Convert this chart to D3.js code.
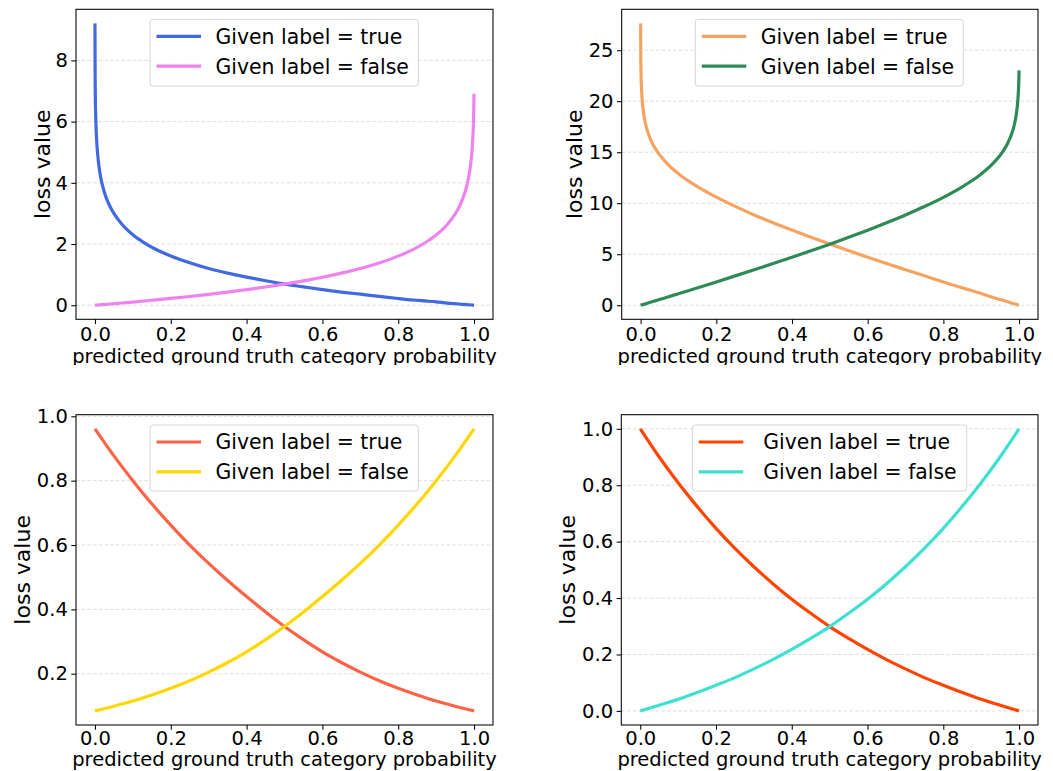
<!DOCTYPE html>
<html>
<head>
<meta charset="utf-8">
<script src="https://cdn.jsdelivr.net/npm/d3@7"></script>
<style>
  html, body { margin: 0; padding: 0; background: #fff; }
  svg { display: block; font-family: "DejaVu Sans", sans-serif; }
</style>
</head>
<body>
<svg id="fig" width="1053" height="771"></svg>
<script>
// Sample positions (predicted ground-truth probability) for the log-based losses
const probs = [0, 0.0005, 0.001, 0.002, 0.004, 0.007, 0.01, 0.015, 0.02, 0.03, 0.04, 0.05, 0.07,
  0.1, 0.13, 0.16, 0.2, 0.25, 0.3, 0.35, 0.4, 0.45, 0.5, 0.55, 0.6, 0.65, 0.7, 0.75, 0.8,
  0.84, 0.87, 0.9, 0.93, 0.95, 0.96, 0.97, 0.98, 0.985, 0.99, 0.993, 0.996, 0.998, 0.999, 1.0];

// Cross-entropy style loss
const ceTrue = [9.21, 7.42, 6.81, 6.17, 5.50, 4.95, 4.60, 4.19, 3.91, 3.50, 3.22, 3.00, 2.66,
  2.30, 2.04, 1.83, 1.61, 1.39, 1.20, 1.05, 0.92, 0.80, 0.69, 0.60, 0.51, 0.43, 0.36, 0.29, 0.22,
  0.17, 0.14, 0.11, 0.07, 0.05, 0.04, 0.03, 0.02, 0.015, 0.01, 0.007, 0.004, 0.002, 0.001, 0.0];
const ceFalse = [0.0, 0.0, 0.0, 0.002, 0.004, 0.006, 0.009, 0.014, 0.019, 0.029, 0.040, 0.050, 0.072,
  0.104, 0.138, 0.173, 0.222, 0.286, 0.355, 0.429, 0.509, 0.596, 0.691, 0.796, 0.914, 1.047, 1.201, 1.382, 1.604,
  1.826, 2.033, 2.293, 2.645, 2.976, 3.194, 3.474, 3.863, 4.135, 4.510, 4.828, 5.298, 5.809, 6.215, 6.908];

// Symmetric (forward + reverse) loss
const sceTrue = [27.63, 24.05, 22.82, 21.53, 20.17, 19.05, 18.32, 17.45, 16.85, 15.93, 15.28, 14.75, 13.89,
  12.89, 12.09, 11.40, 10.59, 9.69, 8.85, 8.09, 7.37, 6.67, 5.99, 5.34, 4.70, 4.08, 3.48, 2.88, 2.28,
  1.81, 1.48, 1.14, 0.78, 0.56, 0.45, 0.34, 0.22, 0.17, 0.11, 0.08, 0.045, 0.02, 0.01, 0.0];
const sceFalse = [0.0, 0.005, 0.009, 0.022, 0.045, 0.076, 0.11, 0.166, 0.222, 0.334, 0.448, 0.56, 0.789,
  1.129, 1.473, 1.82, 2.286, 2.875, 3.473, 4.082, 4.702, 5.337, 5.987, 6.658, 7.354, 8.081, 8.849, 9.672, 10.576,
  11.388, 12.079, 12.875, 13.855, 14.702, 15.23, 15.882, 16.752, 17.342, 18.138, 18.802, 19.769, 20.81, 21.631, 23.026];

// Evenly spaced positions for the bounded losses
const probsEven = [0, 0.05, 0.1, 0.15, 0.2, 0.25, 0.3, 0.35, 0.4, 0.45, 0.5,
  0.55, 0.6, 0.65, 0.7, 0.75, 0.8, 0.85, 0.9, 0.95, 1.0];

const boundedTrue = [0.961, 0.877, 0.800, 0.728, 0.662, 0.600, 0.543, 0.490, 0.440, 0.392, 0.347,
  0.306, 0.268, 0.235, 0.205, 0.178, 0.155, 0.134, 0.115, 0.099, 0.0845];
const boundedFalse = [0.0845, 0.099, 0.115, 0.134, 0.155, 0.178, 0.205, 0.235, 0.268, 0.306, 0.347,
  0.392, 0.440, 0.490, 0.543, 0.600, 0.662, 0.728, 0.800, 0.877, 0.961];

const unitTrue = [1.0, 0.900, 0.809, 0.725, 0.647, 0.576, 0.511, 0.451, 0.396, 0.346, 0.299,
  0.257, 0.218, 0.182, 0.149, 0.118, 0.091, 0.065, 0.041, 0.020, 0.0];
const unitFalse = [0.0, 0.020, 0.041, 0.065, 0.091, 0.118, 0.149, 0.182, 0.218, 0.257, 0.299,
  0.346, 0.396, 0.451, 0.511, 0.576, 0.647, 0.725, 0.809, 0.900, 1.0];

// Tick values
const xTicks = [0, 0.2, 0.4, 0.6, 0.8, 1.0];
const yTicksCE = [0, 2, 4, 6, 8];
const yTicksSCE = [0, 5, 10, 15, 20, 25];
const yTicksBounded = [0.2, 0.4, 0.6, 0.8, 1.0];
const yTicksUnit = [0, 0.2, 0.4, 0.6, 0.8, 1.0];

const legendLabels = ["Given label = true", "Given label = false"];
const xLabel = "predicted ground truth category probability";
const yLabel = "loss value";

const panels = [
  { box: [76, 493, 9.3, 319.3], yDomain: [-0.46, 9.67], yTicks: yTicksCE, fmt: d3.format("d"),
    x: probs, series: [ceTrue, ceFalse], colors: ["#4169E1", "#EE82EE"],
    legend: [150, 19.3, 268.3, 66.7], legendPad: 0, yLabelX: 50, xLabelGap: 43.5, xTickPad: 3.5,
    clipTop: 0, clipBottom: 365 },
  { box: [621.7, 1038, 9.3, 319.3], yDomain: [-1.38, 29.01], yTicks: yTicksSCE, fmt: d3.format("d"),
    x: probs, series: [sceTrue, sceFalse], colors: ["#F4A460", "#2E8B57"],
    legend: [695.3, 19.3, 268, 66.7], legendPad: 0, yLabelX: 582, xLabelGap: 43.5, xTickPad: 3.5,
    clipTop: 0, clipBottom: 365 },
  { box: [76, 493, 414.7, 725], yDomain: [0.0407, 1.005], yTicks: yTicksBounded, fmt: d3.format(".1f"),
    x: probsEven, series: [boundedTrue, boundedFalse], colors: ["#FF6347", "#FFD700"],
    legend: [150, 425, 268.3, 66], legendPad: 0, yLabelX: 30, xLabelGap: 41.3, xTickPad: 1.8,
    clipTop: 395, clipBottom: 771 },
  { box: [621.3, 1038, 414.7, 725], yDomain: [-0.05, 1.05], yTicks: yTicksUnit, fmt: d3.format(".1f"),
    x: probsEven, series: [unitTrue, unitFalse], colors: ["#FF4500", "#40E0D0"],
    legend: [692.3, 425, 274.4, 66], legendPad: 5.5, yLabelX: 575, xLabelGap: 41.3, xTickPad: 1.8,
    clipTop: 395, clipBottom: 771 }
];

const svg = d3.select("#fig");
const defs = svg.append("defs");
const FS_TICK = 19.5, FS_XLABEL = 19.5, FS_YLABEL = 22, FS_LEGEND = 20.4;

panels.forEach((p, i) => {
  const [x0, x1, y0, y1] = p.box;
  const clipId = "clip" + i;
  defs.append("clipPath").attr("id", clipId)
    .append("rect").attr("x", 0).attr("y", p.clipTop)
    .attr("width", 1053).attr("height", p.clipBottom - p.clipTop);
  const g = svg.append("g").attr("clip-path", `url(#${clipId})`);

  const x = d3.scaleLinear().domain([-0.05, 1.05]).range([x0, x1]);
  const y = d3.scaleLinear().domain(p.yDomain).range([y1, y0]);

  // horizontal dashed grid
  g.append("g").selectAll("line").data(p.yTicks).join("line")
    .attr("x1", x0).attr("x2", x1)
    .attr("y1", d => y(d)).attr("y2", d => y(d))
    .attr("stroke", "#d9d9d9").attr("stroke-width", 0.9)
    .attr("stroke-dasharray", "3.5,2.2");

  // curves
  const line = d3.line().curve(d3.curveMonotoneX);
  p.series.forEach((vals, k) => {
    const pts = p.x.map((v, j) => [x(v), y(vals[j])]);
    g.append("path").attr("d", line(pts))
      .attr("fill", "none").attr("stroke", p.colors[k])
      .attr("stroke-width", 3.2).attr("stroke-linecap", "butt");
  });

  // axes
  const xAxis = d3.axisBottom(x).tickValues(xTicks).tickFormat(d3.format(".1f"))
    .tickSize(4.7).tickPadding(p.xTickPad).tickSizeOuter(0);
  const yAxis = d3.axisLeft(y).tickValues(p.yTicks).tickFormat(p.fmt)
    .tickSize(4.7).tickPadding(3.5).tickSizeOuter(0);
  const gx = g.append("g").attr("transform", `translate(0,${y1})`).call(xAxis);
  const gy = g.append("g").attr("transform", `translate(${x0},0)`).call(yAxis);
  [gx, gy].forEach(a => {
    a.select(".domain").remove();
    a.selectAll("line").attr("stroke", "#000").attr("stroke-width", 1.05);
    a.selectAll("text").attr("font-size", FS_TICK).attr("fill", "#000")
      .attr("font-family", "DejaVu Sans, sans-serif");
  });

  // frame
  g.append("rect").attr("x", x0).attr("y", y0)
    .attr("width", x1 - x0).attr("height", y1 - y0)
    .attr("fill", "none").attr("stroke", "#000").attr("stroke-width", 1.05);

  // axis labels
  g.append("text").attr("x", (x0 + x1) / 2).attr("y", y1 + p.xLabelGap)
    .attr("text-anchor", "middle").attr("font-size", FS_XLABEL).text(xLabel);
  g.append("text")
    .attr("transform", `translate(${p.yLabelX},${(y0 + y1) / 2}) rotate(-90)`)
    .attr("text-anchor", "middle").attr("font-size", FS_YLABEL).text(yLabel);

  // legend
  const [lx, ly, lw, lh] = p.legend;
  const lg = g.append("g");
  lg.append("rect").attr("x", lx).attr("y", ly).attr("width", lw).attr("height", lh)
    .attr("rx", 3).attr("fill", "rgba(255,255,255,0.85)")
    .attr("stroke", "#d4d4d4").attr("stroke-width", 1);
  const items = lg.selectAll("g.item").data(legendLabels).join("g").attr("class", "item")
    .attr("transform", (d, k) => `translate(${lx}, ${ly + 17 + k * 29.8})`);
  items.append("line").attr("x1", 6.5).attr("x2", 51)
    .attr("stroke", (d, k) => p.colors[k]).attr("stroke-width", 3.2);
  items.append("text").attr("x", 65.5 + p.legendPad).attr("y", 7.4)
    .attr("font-size", FS_LEGEND).text(d => d);
});
</script>
</body>
</html>
